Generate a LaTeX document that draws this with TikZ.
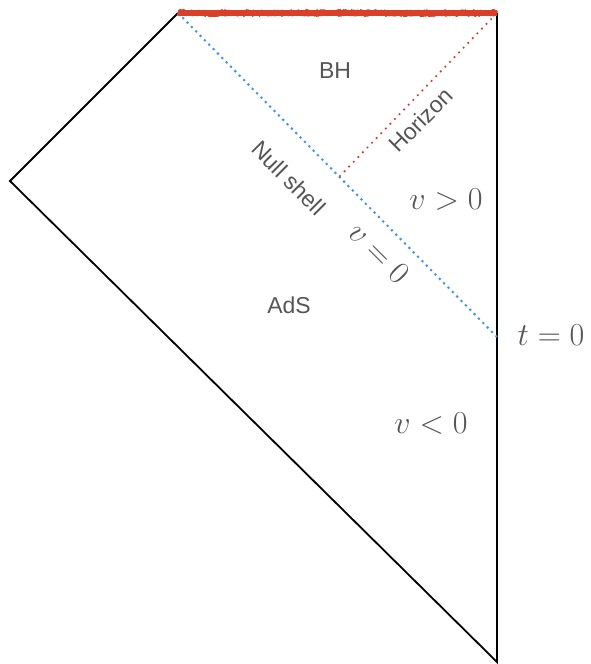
\documentclass[tikz,border=0pt]{standalone}
\usepackage{graphicx}
\usepackage{fontspec}
\setsansfont{Liberation Sans}
\usetikzlibrary{decorations.pathmorphing}
\definecolor{txtgray}{HTML}{555555}
\definecolor{shellblue}{HTML}{3F95E6}
\definecolor{sing}{HTML}{D8402A}
\definecolor{horred}{HTML}{D83A30}
\newcommand{\bigmath}[1]{\scalebox{1.286}{$#1$}}
\tikzset{
  edge/.style={black, line width=1.8pt},
  singbase/.style={sing, line width=5.5pt},
  singular/.style={sing, line width=1.2pt, line join=round, decorate, decoration={random steps, segment length=1.1pt, amplitude=3.6pt}},
  shell/.style={shellblue, line width=2pt, dash pattern=on 2.2pt off 4pt},
  horizonline/.style={horred, line width=2.4pt, line cap=round, dash pattern=on 0pt off 6.6pt},
  lab/.style={txtgray, font=\sffamily\fontsize{23}{25}\selectfont, inner sep=0pt},
  mlab/.style={txtgray, font=\fontsize{24.88}{28}\selectfont, inner sep=0pt}
}
\begin{document}
\begin{tikzpicture}[x=1pt, y=-1pt]
\useasboundingbox (0,0) rectangle (590,664);
\coordinate (TL) at (178,13);
\coordinate (TR) at (497,13);
\coordinate (L) at (10,181);
\coordinate (B) at (497,662);
\coordinate (T0) at (497,337);
\coordinate (X) at (340,176);
\draw[edge, line join=miter] (TR) -- (B) -- (L) -- (TL);
\draw[shell] (TL) -- (T0);
\draw[horizonline] (X) -- (TR);
\draw[singbase] (TL) -- (TR);
\draw[singular] (TL) -- (TR);
\draw[singular, decoration={random steps, segment length=0.8pt, amplitude=3pt}] (TL) -- (TR);
\node[lab] (bh) at (335,71) {BH};
\node[lab, rotate=45] (hor) at (421,120) {Horizon};
\node[lab, rotate=-45] (ns) at (289,178) {Null shell};
\node[mlab, rotate=-45] (v0) at (379,253) {\bigmath{v=0}};
\node[mlab] (vp) at (446,200) {\bigmath{v>0}};
\node[lab] (ads) at (289,305) {AdS};
\node[mlab] (t0) at (551,335) {\bigmath{t=0}};
\node[mlab] (vm) at (431,424) {\bigmath{v<0}};
\end{tikzpicture}
\end{document}
